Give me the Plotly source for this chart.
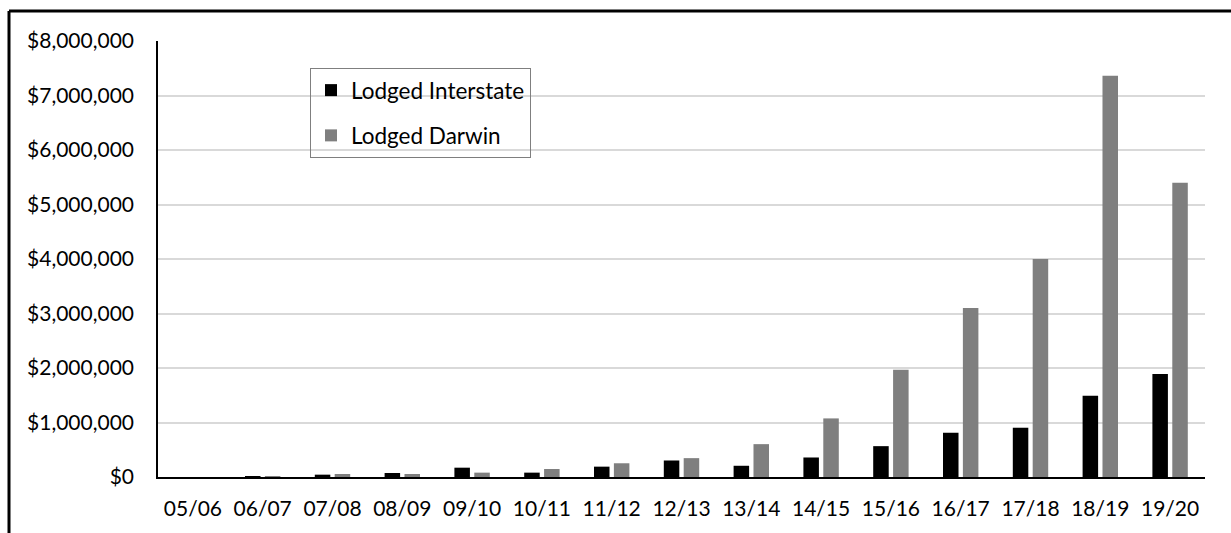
import plotly.graph_objects as go

# Financial years and lodged amounts (AUD)
years = ["05/06", "06/07", "07/08", "08/09", "09/10", "10/11", "11/12", "12/13",
         "13/14", "14/15", "15/16", "16/17", "17/18", "18/19", "19/20"]
lodged_interstate = [0, 12000, 43000, 74000, 171000, 80000, 190000, 303000,
                     206000, 358000, 566000, 812000, 904000, 1490000, 1890000]
lodged_darwin = [0, 12000, 55000, 55000, 80000, 147000, 252000, 346000,
                 603000, 1075000, 1967000, 3100000, 4000000, 7362000, 5400000]
y_ticks = [0, 1000000, 2000000, 3000000, 4000000, 5000000, 6000000, 7000000, 8000000]

W, H = 1231, 533
M_L, M_R, M_T, M_B = 158, 26, 41, 56
PW, PH = W - M_L - M_R, H - M_T - M_B


def px_x(px):
    return (px - M_L) / PW


def px_y(py):
    return (H - M_B - py) / PH


FONT = "Lato, 'Open Sans', sans-serif"

fig = go.Figure()
fig.add_trace(go.Bar(x=years, y=lodged_interstate, name="Lodged Interstate",
                     marker=dict(color="#000000", line=dict(width=0)),
                     legendgroup="a"))
fig.add_trace(go.Bar(x=years, y=lodged_darwin, name="Lodged Darwin",
                     marker=dict(color="#7f7f7f", line=dict(width=0)),
                     legendgroup="b"))

# outer chart frame (top and left edges)
fig.add_shape(type="line", xref="paper", yref="paper",
              x0=px_x(9), x1=px_x(1245), y0=px_y(11), y1=px_y(11),
              line=dict(color="#000000", width=3))
fig.add_shape(type="line", xref="paper", yref="paper",
              x0=px_x(9), x1=px_x(9), y0=px_y(11), y1=px_y(545),
              line=dict(color="#000000", width=3))

fig.update_layout(
    width=W, height=H,
    margin=dict(l=M_L, r=M_R, t=M_T, b=M_B, pad=0),
    paper_bgcolor="white", plot_bgcolor="white",
    barmode="group", bargap=0.43, bargroupgap=0.22,
    font=dict(family=FONT, size=21, color="#000000"),
    showlegend=True,
    legend=dict(
        x=px_x(310), y=px_y(68), xanchor="left", yanchor="top",
        bgcolor="rgba(0,0,0,0)", bordercolor="#7f7f7f", borderwidth=1,
        font=dict(family=FONT, size=22.5, color="#000000"),
        traceorder="grouped", tracegroupgap=13,
        entrywidth=190, entrywidthmode="pixels",
    ),
    xaxis=dict(
        showgrid=False, showline=True, linecolor="#000000", linewidth=1.5,
        ticks="", ticklabelstandoff=12,
        tickfont=dict(family=FONT, size=21, color="#000000"),
    ),
    yaxis=dict(
        range=[0, 8000000], tickvals=y_ticks, tickformat="$,.0f",
        showgrid=True, gridcolor="#d9d9d9", gridwidth=1.5,
        showline=True, linecolor="#000000", linewidth=1.5,
        zeroline=False, ticks="", ticklabelstandoff=18,
        tickfont=dict(family=FONT, size=21, color="#000000"),
    ),
)

fig.write_html("out.html")
